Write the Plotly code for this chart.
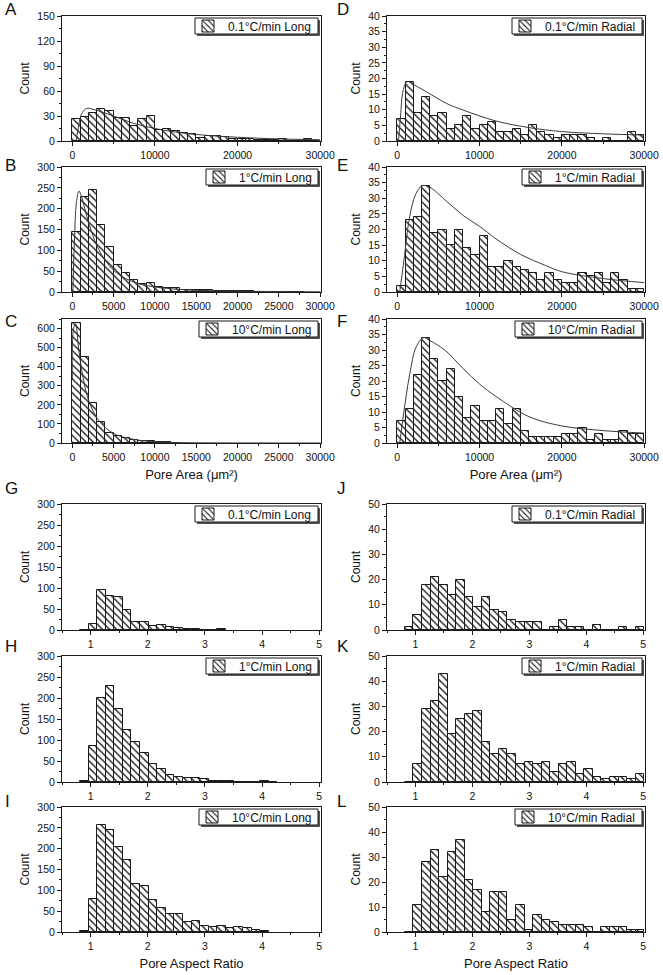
import plotly.graph_objects as go

# ---------------- data ----------------
area_bin_centres = [500, 1500, 2500, 3500, 4500, 5500, 6500, 7500, 8500, 9500,
                    10500, 11500, 12500, 13500, 14500, 15500, 16500, 17500, 18500, 19500,
                    20500, 21500, 22500, 23500, 24500, 25500, 26500, 27500, 28500, 29500]
ar_bin_centres = [0.89, 1.04, 1.19, 1.34, 1.49, 1.64, 1.79, 1.94, 2.09, 2.24,
                  2.39, 2.54, 2.69, 2.84, 2.99, 3.14, 3.29, 3.44, 3.59, 3.74,
                  3.89, 4.04, 4.19, 4.34, 4.49, 4.64, 4.79, 4.94]

area_tick_A = [0, 10000, 20000, 30000]
area_tick_B = [0, 5000, 10000, 15000, 20000, 25000, 30000]
ar_ticks = [1, 2, 3, 4, 5]

labels = ["0.1°C/min Long", "1°C/min Long", "10°C/min Long",
          "0.1°C/min Radial", "1°C/min Radial", "10°C/min Radial",
          "0.1°C/min Long", "1°C/min Long", "10°C/min Long",
          "0.1°C/min Radial", "1°C/min Radial", "10°C/min Radial"]
letters = ["A", "B", "C", "D", "E", "F", "G", "H", "I", "J", "K", "L"]

# pore area histograms (counts per 1000 µm² bin)
count_A = [27, 29, 34, 38, 36, 28, 28, 18, 27, 30, 13, 14, 12, 10, 8, 4, 6, 6, 5, 3,
           2, 2, 1, 1, 1, 2, 0, 0, 2, 0]
count_B = [145, 229, 244, 160, 107, 65, 45, 30, 20, 22, 12, 9, 10, 6, 5, 4, 4, 3, 3, 3,
           3, 2, 1, 1, 1, 1, 1, 1]
count_C = [630, 452, 211, 109, 55, 35, 24, 14, 11, 9, 7, 5, 2]
count_D = [7, 19, 9, 14, 8, 9, 4, 5, 8, 4, 5, 6, 3, 3, 4, 2, 5, 3, 2, 1,
           2, 2, 2, 1, 0, 1, 0, 0, 3, 2]
count_E = [2, 23, 24, 34, 19, 20, 15, 20, 14, 12, 18, 8, 8, 10, 8, 7, 6, 4, 6, 4,
           3, 3, 6, 5, 6, 3, 6, 4, 1, 1]
count_F = [7, 11, 22, 34, 27, 20, 24, 15, 8, 12, 7, 7, 11, 6, 11, 4, 2, 2, 2, 2,
           3, 3, 5, 1, 3, 1, 1, 4, 3, 3]

# pore aspect ratio histograms
count_G = [0, 15, 95, 82, 78, 47, 20, 20, 9, 11, 7, 5, 3, 2, 0, 0, 2]
count_H = [2, 85, 200, 228, 173, 125, 95, 70, 42, 30, 17, 13, 9, 9, 8, 2, 3, 3, 1, 1,
           1, 3, 1]
count_I = [2, 80, 257, 245, 205, 173, 115, 110, 77, 58, 44, 44, 25, 27, 15, 12, 15, 10, 13, 9,
           4, 2]
count_J = [1, 6, 18, 21, 18, 14, 20, 13, 9, 13, 8, 7, 4, 3, 3, 3, 0, 1, 4, 1,
           1, 0, 2, 0, 0, 1, 0, 1]
count_K = [0, 7, 29, 32, 43, 19, 25, 27, 28, 16, 11, 13, 11, 7, 8, 7, 8, 4, 7, 8,
           3, 5, 2, 1, 2, 2, 1, 3]
count_L = [0, 11, 28, 33, 22, 32, 37, 21, 17, 8, 16, 16, 5, 11, 1, 7, 5, 4, 3, 3,
           3, 2, 0, 2, 2, 2, 1, 1]

# fitted distribution curves
fit_A_x = [450, 800, 1100, 1700, 2500, 3500, 5000, 7500, 10000, 13000, 16000, 20000, 25000, 30000]
fit_A_y = [0, 20, 32, 39, 38, 35, 30, 21, 15, 10, 7, 4.5, 2.5, 1.5]
fit_B_x = [60, 250, 500, 800, 1100, 1500, 2000, 2500, 3000, 4000, 5000, 6000, 8000, 10000, 14000, 20000, 30000]
fit_B_y = [0, 120, 215, 242, 230, 200, 165, 135, 110, 75, 52, 37, 20, 12, 5, 2, 0.5]
fit_C_x = [0, 150, 400, 700, 1000, 1500, 2000, 3000, 4000, 5000, 6000, 8000, 10000, 12000, 16000, 30000]
fit_C_y = [330, 600, 625, 520, 420, 300, 220, 130, 80, 50, 33, 15, 7, 3, 1, 0]
fit_D_x = [150, 400, 700, 1200, 2000, 3900, 6000, 8000, 12000, 16000, 20000, 25000, 30000]
fit_D_y = [0, 8, 16, 19, 18, 15.2, 12, 9.9, 6.4, 4.3, 3, 2.3, 1.9]
fit_E_x = [300, 800, 1500, 2200, 3000, 3900, 6000, 8000, 10000, 12000, 15000, 18000, 20000, 25000, 30000]
fit_E_y = [0, 10, 24, 31, 34, 33.6, 29, 24.5, 21, 17, 12, 8.5, 6.5, 4.3, 3]
fit_F_x = [300, 800, 1500, 2300, 3200, 4000, 5900, 8000, 10000, 12000, 16000, 20000, 25000, 30000]
fit_F_y = [0, 10, 22, 31, 34, 33, 29.7, 24, 19, 15, 8.5, 5.5, 4, 3.2]

# ---------------- layout helpers ----------------
W, H = 663, 975
col_x = [(62, 321), (387, 645)]
row_y = [(16, 141), (167, 292), (319, 443), (504, 630), (656, 782), (807, 932)]
legend_box_w = [123, 112, 119, 130, 120, 127, 123, 112, 119, 130, 120, 127]

FONT = "Liberation Sans, Arial, sans-serif"
INK = "#1a1a1a"

panels = [
    dict(c=count_A, kind="area", fit=(fit_A_x, fit_A_y), col=0, row=0, yr=[0, 150], ydt=30, xt=area_tick_A),
    dict(c=count_B, kind="area", fit=(fit_B_x, fit_B_y), col=0, row=1, yr=[0, 300], ydt=50, xt=area_tick_B),
    dict(c=count_C, kind="area", fit=(fit_C_x, fit_C_y), col=0, row=2, yr=[0, 650], ydt=100, xt=area_tick_B),
    dict(c=count_D, kind="area", fit=(fit_D_x, fit_D_y), col=1, row=0, yr=[0, 40], ydt=5, xt=area_tick_A),
    dict(c=count_E, kind="area", fit=(fit_E_x, fit_E_y), col=1, row=1, yr=[0, 40], ydt=5, xt=area_tick_A),
    dict(c=count_F, kind="area", fit=(fit_F_x, fit_F_y), col=1, row=2, yr=[0, 40], ydt=5, xt=area_tick_A),
    dict(c=count_G, kind="ar", fit=None, col=0, row=3, yr=[0, 300], ydt=50, xt=ar_ticks),
    dict(c=count_H, kind="ar", fit=None, col=0, row=4, yr=[0, 300], ydt=50, xt=ar_ticks),
    dict(c=count_I, kind="ar", fit=None, col=0, row=5, yr=[0, 300], ydt=50, xt=ar_ticks),
    dict(c=count_J, kind="ar", fit=None, col=1, row=3, yr=[0, 50], ydt=10, xt=ar_ticks),
    dict(c=count_K, kind="ar", fit=None, col=1, row=4, yr=[0, 50], ydt=10, xt=ar_ticks),
    dict(c=count_L, kind="ar", fit=None, col=1, row=5, yr=[0, 50], ydt=10, xt=ar_ticks),
]

fig = go.Figure()
layout = {}
annotations = []
shapes = []

for i, p in enumerate(panels):
    n = i + 1
    xa = "x" if n == 1 else f"x{n}"
    ya = "y" if n == 1 else f"y{n}"
    lg = "legend" if n == 1 else f"legend{n}"
    if p["kind"] == "area":
        centres = area_bin_centres
        bw = 1000
        xr = [-1250, 30100]
        xminor = (p["xt"][1] - p["xt"][0]) / 2
        title = "Pore Area (μm²)" if p["row"] == 2 else None
    else:
        centres = ar_bin_centres
        bw = 0.15
        xr = [0.5, 5.03]
        xminor = 0.5
        title = "Pore Aspect Ratio" if p["row"] == 5 else None

    fig.add_trace(go.Bar(
        x=centres[:len(p["c"])], y=p["c"], width=bw, name=labels[i],
        xaxis=xa, yaxis=ya, legend=lg, showlegend=True,
        marker=dict(color="white", line=dict(color=INK, width=1),
                    pattern=dict(shape="\\", fgcolor=INK, bgcolor="white", size=5, solidity=0.28)),
    ))
    if p["fit"] is not None:
        fig.add_trace(go.Scatter(
            x=p["fit"][0], y=p["fit"][1], mode="lines", xaxis=xa, yaxis=ya,
            line=dict(color="#3a3a3a", width=1, shape="spline", smoothing=1.0),
            showlegend=False, hoverinfo="skip",
        ))

    x0, x1 = col_x[p["col"]]
    y0, y1 = row_y[p["row"]]
    xd = [x0 / W, x1 / W]
    yd = [1 - y1 / H, 1 - y0 / H]

    xkey = "xaxis" if n == 1 else f"xaxis{n}"
    ykey = "yaxis" if n == 1 else f"yaxis{n}"
    layout[xkey] = dict(
        domain=xd, anchor=ya, range=xr, tickvals=p["xt"], tickformat="d",
        showline=True, linecolor=INK, linewidth=1, mirror=True, automargin=False,
        ticks="outside", ticklen=4, tickcolor=INK, showgrid=False, zeroline=False,
        tickfont=dict(size=10.5, color="#111", family=FONT),
        minor=dict(ticks="outside", ticklen=2, dtick=xminor, tick0=0, tickcolor=INK, showgrid=False),
        title=dict(text=title, font=dict(size=13, color="#111", family=FONT), standoff=8) if title else None,
        fixedrange=True,
    )
    layout[ykey] = dict(
        domain=yd, anchor=xa, range=p["yr"], dtick=p["ydt"], tick0=0,
        showline=True, linecolor=INK, linewidth=1, mirror=True, automargin=False,
        ticks="outside", ticklen=4, tickcolor=INK, showgrid=False, zeroline=False,
        tickfont=dict(size=10.5, color="#111", family=FONT),
        minor=dict(ticks="outside", ticklen=2, dtick=p["ydt"] / 2, tick0=0, tickcolor=INK, showgrid=False),
        title=dict(text="Count", font=dict(size=12, color="#111", family=FONT), standoff=5),
        fixedrange=True,
    )

    # legend frame (Origin style with a shadow) + transparent plotly legend on top
    bx1 = x1 - 3
    bx0 = bx1 - legend_box_w[i]
    by0 = y0 + 2
    by1 = by0 + 16
    shapes.append(dict(type="rect", xref="paper", yref="paper", layer="above",
                       x0=(bx0 + 2) / W, x1=(bx1 + 2) / W, y0=1 - (by1 + 2) / H, y1=1 - (by0 + 2) / H,
                       fillcolor="#555", line=dict(width=0)))
    shapes.append(dict(type="rect", xref="paper", yref="paper", layer="above",
                       x0=bx0 / W, x1=bx1 / W, y0=1 - by1 / H, y1=1 - by0 / H,
                       fillcolor="white", line=dict(color=INK, width=1)))
    layout[lg] = dict(
        x=(bx0 - 7) / W, y=1 - (by0 + by1) / 2 / H, xanchor="left", yanchor="middle",
        bgcolor="rgba(0,0,0,0)", borderwidth=0,
        font=dict(size=12, color="#111", family=FONT),
        itemclick=False, itemdoubleclick=False,
    )
    lx = 3 if p["col"] == 0 else 335
    ly = [10, 165, 321, 489, 646, 801][p["row"]]
    annotations.append(dict(
        text=letters[i], x=lx / W, y=1 - ly / H, xref="paper", yref="paper",
        xanchor="left", yanchor="middle", showarrow=False,
        font=dict(size=17, color="#111", family=FONT),
    ))

fig.update_layout(
    template="none",
    width=W, height=H, margin=dict(l=0, r=0, t=0, b=0, pad=0),
    paper_bgcolor="white", plot_bgcolor="white",
    annotations=annotations, shapes=shapes, bargap=0,
    font=dict(family=FONT, color="#111"),
    **layout,
)

fig.write_html("out.html", config={"displayModeBar": False, "staticPlot": False},
               post_script="document.body.style.margin='0px';")
